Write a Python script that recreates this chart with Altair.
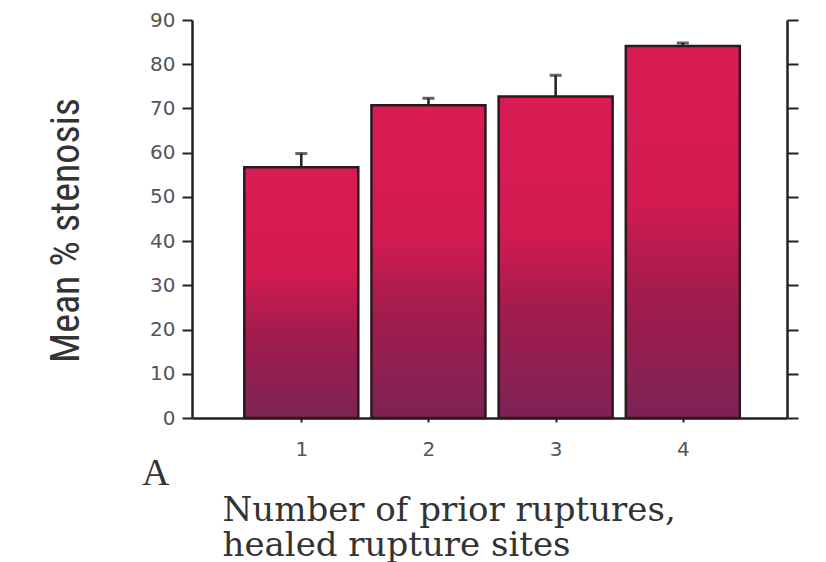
import altair as alt
import pandas as pd

ruptures = [1, 2, 3, 4]
mean_stenosis = [56.7, 70.7, 72.7, 84.1]
error_top = [59.8, 72.3, 77.5, 84.8]
y_ticks = [0, 10, 20, 30, 40, 50, 60, 70, 80, 90]
x_ticks = [1, 2, 3, 4]

df = pd.DataFrame({"n": ruptures, "mean": mean_stenosis, "err": error_top})

W, H = 595, 398

grad = alt.Gradient(
    gradient="linear",
    stops=[
        alt.GradientStop(color="#DA1C53", offset=0),
        alt.GradientStop(color="#D21B51", offset=0.42),
        alt.GradientStop(color="#A31C4D", offset=0.66),
        alt.GradientStop(color="#7C2354", offset=1),
    ],
    x1=0, x2=0, y1=0, y2=1,
)

xscale = alt.Scale(domain=[0.18, 4.78], nice=False, zero=False)
yscale = alt.Scale(domain=[0, 90], nice=False)

x_axis = alt.Axis(
    values=x_ticks, format="d", grid=False, tickSize=4, tickWidth=2,
    tickColor="#222", domainColor="#222", domainWidth=2.5,
    labelFont="DejaVu Sans", labelFontSize=20, labelColor="#555",
    labelPadding=17,
    title=["Number of prior ruptures,", "healed rupture sites"],
    titleFont="DejaVu Serif", titleFontSize=34, titleFontWeight="normal",
    titleColor="#333", titleLineHeight=35, titleAnchor="start",
    titleAlign="left", titleBaseline="alphabetic", titleX=30, titleY=102,
)

y_enc = alt.Y(
    "mean:Q",
    scale=yscale,
    axis=alt.Axis(
        orient="left",
        values=y_ticks, grid=False, tickSize=10, tickWidth=2, tickColor="#222",
        domainColor="#222", domainWidth=2.5,
        labelFont="DejaVu Sans", labelFontSize=20, labelColor="#555",
        labelPadding=7,
        title="Mean % stenosis",
        titleFont="Liberation Sans Narrow, Roboto Condensed, Liberation Sans",
        titleFontSize=40, titleFontWeight="normal", titleColor="#333",
        titleAngle=-90, titleAlign="center", titleBaseline="alphabetic",
        titleX=-114, titleY=210,
    ),
)

right_axis = alt.Chart(df).mark_point(opacity=0).encode(
    x=alt.X("n:Q", scale=xscale, axis=x_axis),
    y=alt.Y(
        "mean:Q",
        scale=yscale,
        axis=alt.Axis(
            orient="right", values=y_ticks, labels=False, title=None,
            grid=False, tickSize=11, tickWidth=2, tickColor="#222",
            domainColor="#222", domainWidth=2.5,
        ),
    ),
)

bars = alt.Chart(df).mark_bar(
    fill=grad, stroke="#2a1a20", strokeWidth=2.5, size=114
).encode(x=alt.X("n:Q", scale=xscale, axis=x_axis), y=y_enc)

err_line = alt.Chart(df).mark_rule(color="#222", strokeWidth=2.5).encode(
    x=alt.X("n:Q", scale=xscale, axis=x_axis),
    y=alt.Y("mean:Q", scale=yscale, axis=None),
    y2="err:Q",
)

err_cap = alt.Chart(df).mark_tick(
    color="#222", orient="horizontal", size=12, thickness=3
).encode(
    x=alt.X("n:Q", scale=xscale, axis=x_axis),
    y=alt.Y("err:Q", scale=yscale, axis=None),
)

label_a = alt.Chart(pd.DataFrame({"t": ["A"]})).mark_text(
    font="Liberation Serif", fontSize=38, color="#333", align="left",
    baseline="alphabetic",
).encode(text="t:N", x=alt.value(-50), y=alt.value(465))

chart = (
    alt.layer(bars, right_axis, err_line, err_cap, label_a)
    .resolve_axis(y="independent")
    .resolve_scale(y="shared")
    .properties(
        width=W,
        height=H,
        autosize=alt.AutoSizeParams(type="none"),
        padding={"left": 184, "top": 12, "right": 25, "bottom": 146},
        background="white",
    )
    .configure_view(stroke=None)
)

chart.save("out.html", embed_options={"renderer": "svg", "actions": False})
